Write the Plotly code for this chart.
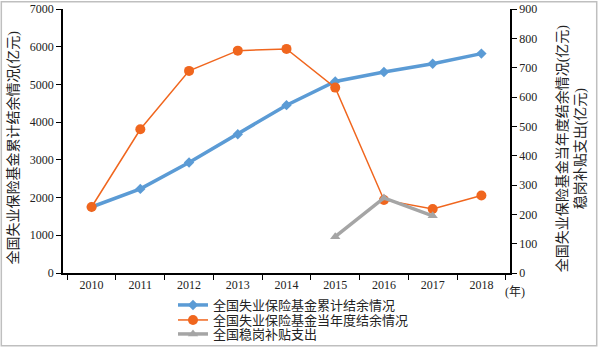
import plotly.graph_objects as go

years = ["2010", "2011", "2012", "2013", "2014", "2015", "2016", "2017", "2018"]
cumulative = [1750, 2230, 2930, 3680, 4450, 5080, 5330, 5550, 5817]
annual = [225, 490, 689, 758, 764, 632, 249, 218, 264]
subsidy_years = ["2015", "2016", "2017"]
subsidy = [124, 256, 195]

names = ["全国失业保险基金累计结余情况", "全国失业保险基金当年度结余情况", "全国稳岗补贴支出"]
left_title = "全国失业保险基金累计结余情况(亿元)"
right_title = "全国失业保险基金当年度结余情况(亿元)<br>稳岗补贴支出(亿元)"

serif = "Times New Roman, Liberation Serif, Noto Sans CJK SC, serif"
txt = "#222"

fig = go.Figure()
fig.add_trace(go.Scatter(x=years, y=cumulative, name=names[0], mode="lines+markers",
                         legend="legend",
                         line=dict(color="#5B9BD5", width=3.5),
                         marker=dict(symbol="diamond", size=8, color="#5B9BD5")))
fig.add_trace(go.Scatter(x=years, y=annual, name=names[1], mode="lines+markers", yaxis="y2",
                         legend="legend2",
                         line=dict(color="#F0661E", width=1.5),
                         marker=dict(symbol="circle", size=10, color="#F0661E")))
fig.add_trace(go.Scatter(x=subsidy_years, y=subsidy, name=names[2], mode="lines+markers", yaxis="y2",
                         legend="legend3",
                         line=dict(color="#A5A5A5", width=3.5),
                         marker=dict(symbol="triangle-up", size=9, color="#A5A5A5")))

def leg(ypx):
    return dict(xref="paper", yref="paper", x=(173 - 63) / 447, y=(273 - ypx) / 264,
                xanchor="left", yanchor="middle",
                font=dict(size=13, color=txt, family=serif), itemwidth=30,
                bgcolor="rgba(0,0,0,0)")

fig.update_layout(
    width=600, height=348,
    margin=dict(l=63, r=90, t=9, b=75, autoexpand=False),
    paper_bgcolor="white", plot_bgcolor="white",
    font=dict(family=serif, size=12, color=txt),
    showlegend=True,
    legend=leg(305),
    legend2=leg(320),
    legend3=leg(334),
    xaxis=dict(type="category", categoryorder="array", categoryarray=years,
               showline=True, linecolor="black", linewidth=1.5,
               ticks="outside", tickson="boundaries", ticklen=5, tickcolor="black",
               showgrid=False, zeroline=False, tickfont=dict(size=12)),
    yaxis=dict(range=[0, 7000], dtick=1000, showline=True, linecolor="black", linewidth=1.5,
               ticks="outside", ticklen=5, tickcolor="black", showgrid=False, zeroline=False,
               tickfont=dict(size=12)),
    yaxis2=dict(range=[0, 900], dtick=100, overlaying="y", side="right",
                showline=True, linecolor="black", linewidth=1.5,
                ticks="outside", ticklen=5, tickcolor="black", showgrid=False, zeroline=False,
                tickfont=dict(size=12)),
)

fig.add_annotation(text=left_title, textangle=-90, xref="paper", yref="paper",
                   x=-0.11, y=0.475, xanchor="center", yanchor="middle", showarrow=False,
                   font=dict(size=14, family=serif, color=txt))
fig.add_annotation(text=right_title, textangle=-90, xref="paper", yref="paper",
                   x=1.137, y=0.473, xanchor="center", yanchor="middle", showarrow=False,
                   font=dict(size=14, family=serif, color=txt))
fig.add_annotation(text="(年)", xref="paper", yref="paper", x=0.985, y=-0.036,
                   xanchor="left", yanchor="top", showarrow=False,
                   font=dict(size=12, family=serif, color=txt))
fig.add_shape(type="rect", xref="paper", yref="paper", x0=-0.138, x1=1.194, y0=-0.276, y1=1.027,
              line=dict(color="#BFBFBF", width=1.5))

fig.write_html("out.html", config={"displayModeBar": False},
               post_script="document.body.style.margin='0';document.body.style.overflow='hidden';")
